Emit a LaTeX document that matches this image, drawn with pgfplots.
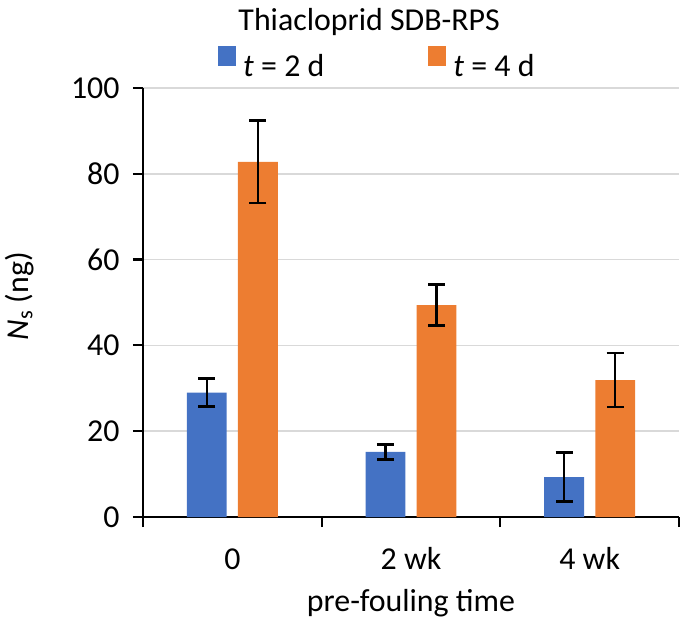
\documentclass[border=0pt]{standalone}
\usepackage{fontspec}
\setmainfont{Carlito}
\usepackage{pgfplots}
\pgfplotsset{compat=1.18}
\definecolor{cblue}{HTML}{4472C4}
\definecolor{corange}{HTML}{ED7D31}
\definecolor{cgrid}{HTML}{D9D9D9}
\begin{document}
\begin{tikzpicture}
\path[use as bounding box] (-143bp,-110bp) rectangle (542bp,517bp);
\begin{axis}[
  at={(0,0)}, anchor=south west,
  scale only axis, width=536bp, height=429bp,
  xmin=-0.5, xmax=2.5, ymin=0, ymax=100,
  ybar, bar width=0.223,
  axis lines*=left,
  axis line style={black, line width=2.2bp},
  tick style={black, line width=2.2bp},
  major tick length=10bp,
  tick align=outside,
  xtick={-0.5,0.5,1.5,2.5},
  x tick label as interval,
  xticklabels={0, 2 wk, 4 wk},
  ytick={0,20,40,60,80,100},
  /pgf/number format/assume math mode=true,
  ymajorgrids,
  major grid style={cgrid, line width=1.5bp},
  ticklabel style={font=\fontsize{32}{38}\selectfont},
  xticklabel style={anchor=base, yshift=-42bp},
  yticklabel style={xshift=-10bp},
  xlabel={pre-fouling time},
  ylabel={\textit{N}\textsubscript{s} (ng)},
  label style={font=\fontsize{32}{38}\selectfont},
  xlabel style={at={(axis description cs:0.5,-0.221)}, anchor=base},
  ylabel style={at={(axis description cs:-0.230,0.515)}, anchor=center},
  title={Thiacloprid SDB-RPS},
  title style={at={(axis description cs:0.422,1.121)}, anchor=base, font=\fontsize{32}{38}\selectfont},
  legend style={at={(axis description cs:0.140,1.0606)}, anchor=west, draw=none, fill=none,
    inner sep=0pt, nodes={inner sep=0pt},
    font=\fontsize{32}{38}\selectfont, legend columns=2,
    /tikz/every odd column/.append style={column sep=7bp},
    /tikz/every even column/.append style={column sep=104bp}},
  legend image code/.code={\fill[#1] (0bp,1bp) rectangle (18bp,21bp);},
  error bars/y dir=both, error bars/y explicit,
  error bars/error bar style={black, line width=2.5bp},
  error bars/error mark options={black, line width=2.5bp, mark size=8.5bp, rotate=90},
]
\addplot[fill=cblue, draw=none, bar shift=-0.143] coordinates {
  (0,29.0) +- (0,3.3)
  (1,15.2) +- (0,1.75)
  (2,9.3) +- (0,5.7)
};
\addplot[fill=corange, draw=none, bar shift=0.143] coordinates {
  (0,82.8) +- (0,9.6)
  (1,49.4) +- (0,4.8)
  (2,31.9) +- (0,6.3)
};
\legend{\textit{t} = 2 d, \textit{t} = 4 d}
\end{axis}
\end{tikzpicture}
\end{document}
